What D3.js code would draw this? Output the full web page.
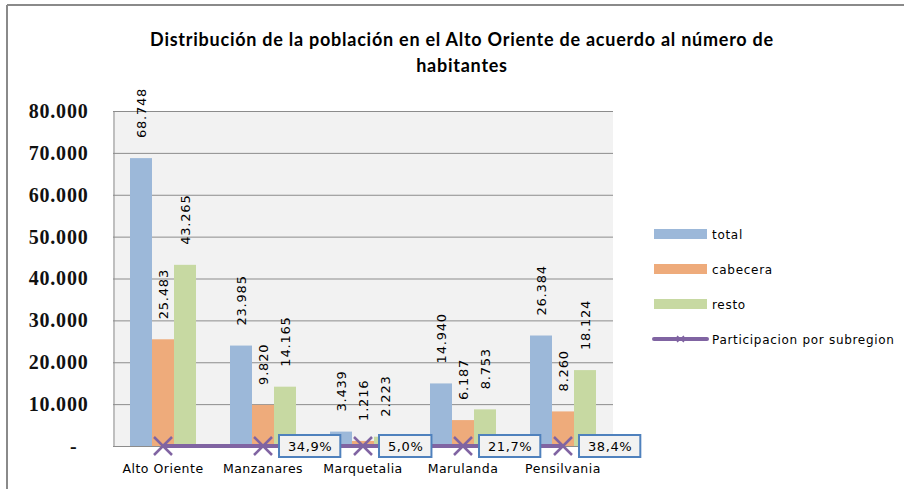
<!DOCTYPE html>
<html>
<head>
<meta charset="utf-8">
<script src="https://cdn.jsdelivr.net/npm/d3@7"></script>
<style>
  body { margin: 0; background: #fff; }
  svg { display: block; }
</style>
</head>
<body>
<svg></svg>
<script>
let width = 904,
    height = 489;

// chart data
const categories = ["Alto Oriente", "Manzanares", "Marquetalia", "Marulanda", "Pensilvania"];
const series = ["total", "cabecera", "resto"];
const total = [68748, 23985, 3439, 14940, 26384];
const cabecera = [25483, 9820, 1216, 6187, 8260];
const resto = [43265, 14165, 2223, 8753, 18124];
const participacion = [1, 0.349, 0.05, 0.217, 0.384];
const participacionLabels = [null, "34,9%", "5,0%", "21,7%", "38,4%"];
const yTicks = [0, 10000, 20000, 30000, 40000, 50000, 60000, 70000, 80000];
const lineName = "Participacion por subregion";

const colors = { total: "#9cb8d9", cabecera: "#eeab7b", resto: "#c7d9a2" };
const purple = "#8064a2";

let svg = d3.select("svg")
    .attr("width", width)
    .attr("height", height);

// outer frame (only top and left edges are visible in the picture)
svg.append("line").attr("x1", 7).attr("x2", width).attr("y1", 5).attr("y2", 5)
    .attr("stroke", "#8a8a8a").attr("stroke-width", 2);
svg.append("line").attr("x1", 7).attr("x2", 7).attr("y1", 5).attr("y2", height)
    .attr("stroke", "#8a8a8a").attr("stroke-width", 2);

// title
let title = svg.append("text")
    .attr("text-anchor", "middle")
    .style("font-family", "Lato, 'Open Sans', sans-serif")
    .style("font-weight", "bold")
    .style("font-size", "18px")
    .style("letter-spacing", "0.75px")
    .attr("fill", "#000");
title.append("tspan").attr("x", 462).attr("y", 46)
    .text("Distribución de la población en el Alto Oriente de acuerdo al número de");
title.append("tspan").attr("x", 462).attr("y", 72).text("habitantes");

let plot = { left: 113, right: 613, top: 111, bottom: 446 };

let x = d3.scaleBand()
    .domain(categories)
    .range([plot.left, plot.right])
    .paddingInner(0.34)
    .paddingOuter(0.17);

let xs = d3.scaleBand()
    .domain(series)
    .range([0, x.bandwidth()]);

let y = d3.scaleLinear()
    .domain([0, 80000])
    .range([plot.bottom, plot.top]);

// plot background
svg.append("rect")
    .attr("x", plot.left).attr("y", plot.top)
    .attr("width", plot.right - plot.left).attr("height", plot.bottom - plot.top)
    .attr("fill", "#f2f2f2");

// gridlines
svg.append("g")
    .selectAll("line")
    .data(yTicks)
    .enter()
    .append("line")
    .attr("x1", plot.left).attr("x2", plot.right)
    .attr("y1", d => y(d) + 0.5).attr("y2", d => y(d) + 0.5)
    .attr("stroke", "#8c8c8c");

// y axis
let fmt = d3.formatLocale({ decimal: ",", thousands: ".", grouping: [3], currency: ["", ""] }).format(",.0f");
let yAxis = d3.axisLeft(y)
    .tickValues(yTicks)
    .tickSize(0)
    .tickPadding(25)
    .tickFormat(d => d === 0 ? "-" : fmt(d));
let gy = svg.append("g")
    .attr("transform", "translate(" + (plot.left + 0.5) + ",0)")
    .call(yAxis);
gy.select(".domain").attr("stroke", "#8c8c8c");
gy.selectAll("text")
    .style("font-family", "'Liberation Serif', serif")
    .style("font-weight", "bold")
    .style("font-size", "20px")
    .style("letter-spacing", "0.8px")
    .attr("fill", "#111")
    .attr("dx", d => d === 0 ? -11 : 0);

// bars
let barData = [];
categories.forEach((c, i) => {
    barData.push({ cat: c, key: "total", value: total[i] });
    barData.push({ cat: c, key: "cabecera", value: cabecera[i] });
    barData.push({ cat: c, key: "resto", value: resto[i] });
});

svg.append("g")
    .selectAll("rect")
    .data(barData)
    .enter()
    .append("rect")
    .attr("x", d => x(d.cat) + xs(d.key))
    .attr("y", d => y(d.value))
    .attr("width", xs.bandwidth())
    .attr("height", d => y(0) - y(d.value))
    .attr("fill", d => colors[d.key]);

// bar value labels, rotated
svg.append("g")
    .selectAll("text")
    .data(barData)
    .enter()
    .append("text")
    .attr("transform", d => "translate(" + (x(d.cat) + xs(d.key) + xs.bandwidth() / 2 + 5) + "," + (y(d.value) - 20) + ") rotate(-90)")
    .attr("text-anchor", "start")
    .style("font-family", "'DejaVu Sans', sans-serif")
    .style("font-size", "13px")
    .style("letter-spacing", "0.8px")
    .attr("fill", "#000")
    .text(d => fmt(d.value));

// x axis baseline
svg.append("line")
    .attr("x1", plot.left).attr("x2", plot.right)
    .attr("y1", plot.bottom + 0.5).attr("y2", plot.bottom + 0.5)
    .attr("stroke", "#8c8c8c");

// category labels
svg.append("g")
    .selectAll("text")
    .data(categories)
    .enter()
    .append("text")
    .attr("x", d => x(d) + x.bandwidth() / 2)
    .attr("y", 473)
    .attr("text-anchor", "middle")
    .style("font-family", "'DejaVu Sans', sans-serif")
    .style("font-size", "12.5px")
    .style("letter-spacing", "0.5px")
    .attr("fill", "#000")
    .text(d => d);

// participation line
let lineData = categories.map((c, i) => ({ cat: c, value: participacion[i], label: participacionLabels[i] }));
let line = d3.line()
    .x(d => x(d.cat) + x.bandwidth() / 2)
    .y(d => y(d.value));

svg.append("path")
    .datum(lineData)
    .attr("d", line)
    .attr("fill", "none")
    .attr("stroke", purple)
    .attr("stroke-width", 4);

let ms = 9;
svg.append("g")
    .selectAll("path")
    .data(lineData)
    .enter()
    .append("path")
    .attr("d", d => {
        let cx = x(d.cat) + x.bandwidth() / 2, cy = y(d.value);
        return "M" + (cx - ms) + "," + (cy - ms) + "L" + (cx + ms) + "," + (cy + ms) +
            "M" + (cx - ms) + "," + (cy + ms) + "L" + (cx + ms) + "," + (cy - ms);
    })
    .attr("stroke", purple)
    .attr("stroke-width", 2.5)
    .attr("fill", "none");

// participation label boxes
let boxes = svg.append("g")
    .selectAll("g")
    .data(lineData.filter(d => d.label))
    .enter()
    .append("g")
    .attr("transform", d => "translate(" + (x(d.cat) + x.bandwidth() / 2 + 16) + "," + (y(d.value) - 11) + ")");
boxes.append("text")
    .attr("x", 9).attr("y", 16)
    .style("font-family", "'DejaVu Sans', sans-serif")
    .style("font-size", "13px")
    .style("letter-spacing", "0.6px")
    .attr("fill", "#000")
    .text(d => d.label);
boxes.each(function() {
    let g = d3.select(this);
    let w = g.select("text").node().getComputedTextLength();
    g.insert("rect", "text")
        .attr("x", 0).attr("y", 0)
        .attr("width", w + 17).attr("height", 22)
        .attr("fill", "#f2f2f2")
        .attr("stroke", "#4f81bd")
        .attr("stroke-width", 2);
});

// legend
let legendItems = series.concat([lineName]);
let legend = svg.append("g")
    .selectAll("g")
    .data(legendItems)
    .enter()
    .append("g")
    .attr("transform", (d, i) => "translate(654," + (234 + i * 35) + ")");

legend.filter(d => d !== lineName)
    .append("rect")
    .attr("x", 0).attr("y", -5)
    .attr("width", 53).attr("height", 10)
    .attr("fill", d => colors[d]);

let lg = legend.filter(d => d === lineName);
lg.append("line")
    .attr("x1", 0).attr("x2", 53).attr("y1", 0).attr("y2", 0)
    .attr("stroke", purple).attr("stroke-width", 4).attr("stroke-linecap", "round");
lg.append("path")
    .attr("d", "M23,-3L30,3M23,3L30,-3")
    .attr("stroke", purple).attr("stroke-width", 1.5);

legend.append("text")
    .attr("x", 58).attr("y", 5)
    .style("font-family", "'DejaVu Sans', sans-serif")
    .style("font-size", "12px")
    .style("letter-spacing", "0.7px")
    .attr("fill", "#000")
    .text(d => d);
</script>
</body>
</html>
